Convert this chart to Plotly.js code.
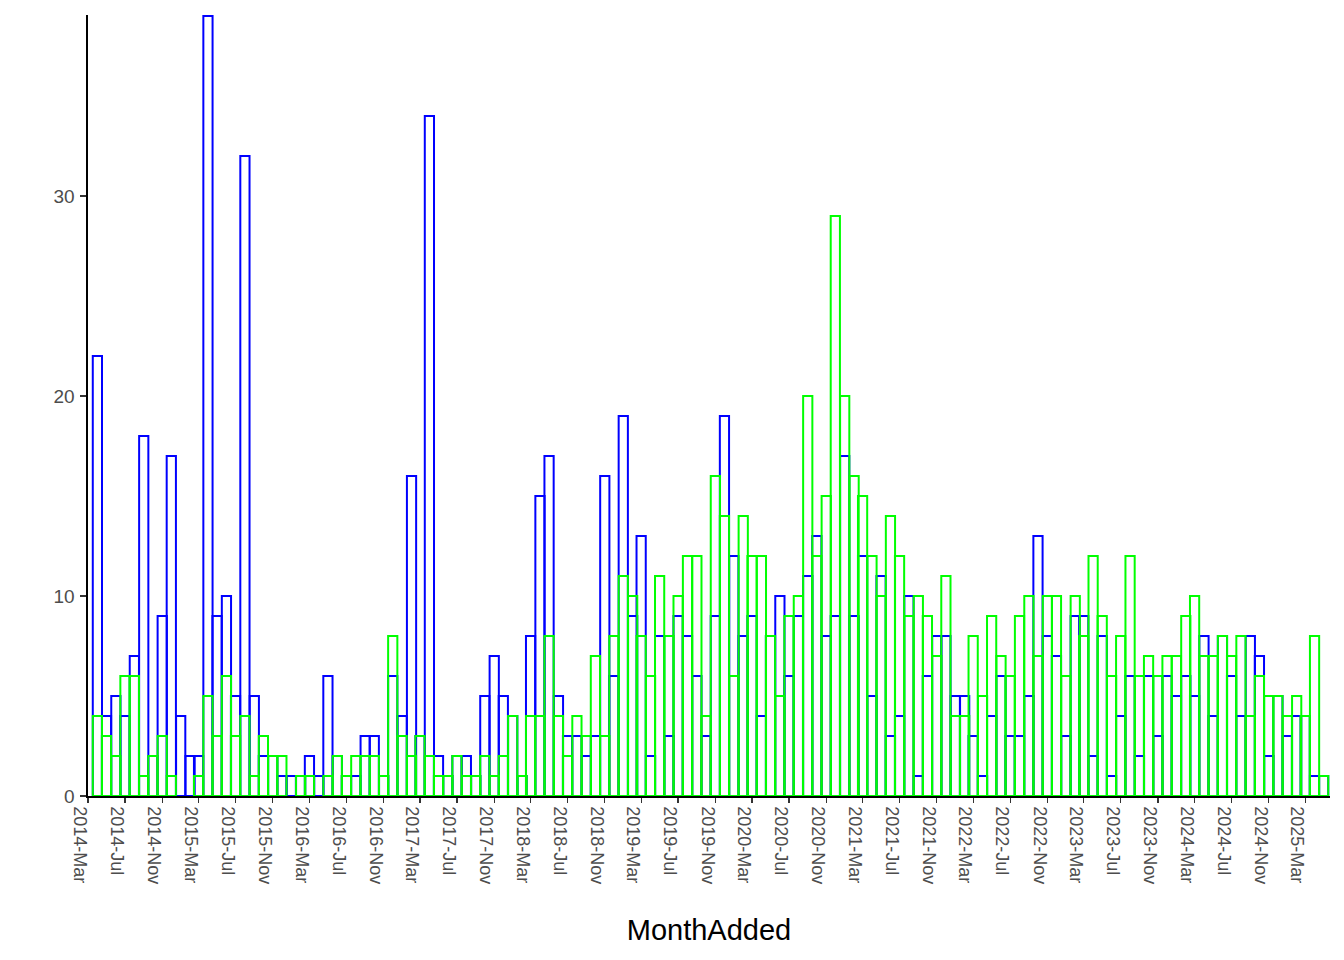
<!DOCTYPE html>
<html><head><meta charset="utf-8">
<script src="https://cdn.plot.ly/plotly-3.0.1.min.js"></script>
<style>html,body{margin:0;padding:0;background:#fff}#chart{width:1344px;height:960px}</style>
</head><body><div id="chart"></div>
<script>
const months = [
'2014-03','2014-04','2014-05','2014-06','2014-07','2014-08','2014-09','2014-10','2014-11','2014-12',
'2015-01','2015-02','2015-03','2015-04','2015-05','2015-06','2015-07','2015-08','2015-09','2015-10','2015-11','2015-12',
'2016-01','2016-02','2016-03','2016-04','2016-05','2016-06','2016-07','2016-08','2016-09','2016-10','2016-11','2016-12',
'2017-01','2017-02','2017-03','2017-04','2017-05','2017-06','2017-07','2017-08','2017-09','2017-10','2017-11','2017-12',
'2018-01','2018-02','2018-03','2018-04','2018-05','2018-06','2018-07','2018-08','2018-09','2018-10','2018-11','2018-12',
'2019-01','2019-02','2019-03','2019-04','2019-05','2019-06','2019-07','2019-08','2019-09','2019-10','2019-11','2019-12',
'2020-01','2020-02','2020-03','2020-04','2020-05','2020-06','2020-07','2020-08','2020-09','2020-10','2020-11','2020-12',
'2021-01','2021-02','2021-03','2021-04','2021-05','2021-06','2021-07','2021-08','2021-09','2021-10','2021-11','2021-12',
'2022-01','2022-02','2022-03','2022-04','2022-05','2022-06','2022-07','2022-08','2022-09','2022-10','2022-11','2022-12',
'2023-01','2023-02','2023-03','2023-04','2023-05','2023-06','2023-07','2023-08','2023-09','2023-10','2023-11','2023-12',
'2024-01','2024-02','2024-03','2024-04','2024-05','2024-06','2024-07','2024-08','2024-09','2024-10','2024-11','2024-12',
'2025-01','2025-02','2025-03','2025-04'];

const blueCounts = [
22,4,5,4,7,18,2,9,17,4,
2,2,39,9,10,5,32,5,2,2,1,1,
1,2,1,6,2,1,1,3,3,1,6,4,
16,3,34,2,1,2,2,1,5,7,5,4,
1,8,15,17,5,3,3,2,3,16,6,19,
9,13,2,8,3,9,8,6,3,9,19,12,
8,9,4,8,10,6,9,11,13,8,9,17,
9,12,5,11,3,4,10,1,6,8,8,5,
5,3,1,4,6,3,3,5,13,8,7,3,
9,9,2,8,1,4,6,2,6,3,6,5,
6,5,8,4,8,6,4,8,7,2,5,3,
4,4,1,1];

const greenCounts = [
4,3,2,6,6,1,2,3,1,0,
0,1,5,3,6,3,4,1,3,2,2,0,
1,1,0,1,2,1,2,2,2,1,8,3,
2,3,2,1,1,2,1,1,2,1,2,4,
1,4,4,8,4,2,4,3,7,3,8,11,
10,8,6,11,8,10,12,12,4,16,14,6,
14,12,12,8,5,9,10,20,12,15,29,20,
16,15,12,10,14,12,9,10,9,7,11,4,
4,8,5,9,7,6,9,10,7,10,10,6,
10,8,12,9,6,8,12,6,7,6,7,7,
9,10,7,7,8,7,8,4,6,5,5,4,
5,4,8,1];

const tickVals = [
'2014-03-01','2014-07-01','2014-11-01','2015-03-01','2015-07-01','2015-11-01',
'2016-03-01','2016-07-01','2016-11-01','2017-03-01','2017-07-01','2017-11-01',
'2018-03-01','2018-07-01','2018-11-01','2019-03-01','2019-07-01','2019-11-01',
'2020-03-01','2020-07-01','2020-11-01','2021-03-01','2021-07-01','2021-11-01',
'2022-03-01','2022-07-01','2022-11-01','2023-03-01','2023-07-01','2023-11-01',
'2024-03-01','2024-07-01','2024-11-01','2025-03-01'];
const tickText = [
'2014-Mar','2014-Jul','2014-Nov','2015-Mar','2015-Jul','2015-Nov',
'2016-Mar','2016-Jul','2016-Nov','2017-Mar','2017-Jul','2017-Nov',
'2018-Mar','2018-Jul','2018-Nov','2019-Mar','2019-Jul','2019-Nov',
'2020-Mar','2020-Jul','2020-Nov','2021-Mar','2021-Jul','2021-Nov',
'2022-Mar','2022-Jul','2022-Nov','2023-Mar','2023-Jul','2023-Nov',
'2024-Mar','2024-Jul','2024-Nov','2025-Mar'];

const MONTH_MS = 30.44 * 24 * 3600 * 1000;
const FONT = 'Liberation Sans, Arial, Helvetica, sans-serif';

function barTrace(name, counts, color) {
  return {
    type: 'bar', name: name,
    x: months, y: counts.map(v => v === 0 ? null : v),
    xperiod: 'M1', xperiodalignment: 'end',
    width: MONTH_MS,
    marker: {color: 'rgba(0,0,0,0)', line: {color: color, width: 2}},
    hoverinfo: 'x+y'
  };
}

const data = [
  barTrace('blue', blueCounts, '#0000FF'),
  barTrace('green', greenCounts, '#00FF00')
];

const layout = {
  width: 1344, height: 960,
  margin: {l: 88, r: 14, t: 15, b: 164},
  paper_bgcolor: '#ffffff', plot_bgcolor: '#ffffff',
  showlegend: false,
  barmode: 'overlay',
  font: {family: FONT},
  xaxis: {
    type: 'date',
    range: ['2014-03-01', '2025-05-22'],
    tickmode: 'array', tickvals: tickVals, ticktext: tickText,
    tickangle: 90,
    ticks: 'outside', ticklen: 5, tickwidth: 1.2, tickcolor: '#333333',
    ticklabelshift: -8,
    showline: true, linecolor: '#000000', linewidth: 1.6,
    showgrid: false, zeroline: false,
    tickfont: {family: FONT, size: 18, color: '#4d4d4d'},
    title: {text: 'MonthAdded', font: {family: FONT, size: 29, color: '#000000'}, standoff: 36}
  },
  yaxis: {
    range: [0, 39.05],
    tickmode: 'array', tickvals: [0, 10, 20, 30],
    ticks: 'outside', ticklen: 6, tickwidth: 1.2, tickcolor: '#333333',
    ticklabelstandoff: 2,
    showline: true, linecolor: '#000000', linewidth: 1.6,
    showgrid: false, zeroline: false,
    tickfont: {family: FONT, size: 19, color: '#4d4d4d'}
  }
};

Plotly.newPlot('chart', data, layout, {displayModeBar: false, staticPlot: true});
</script>
</body></html>
